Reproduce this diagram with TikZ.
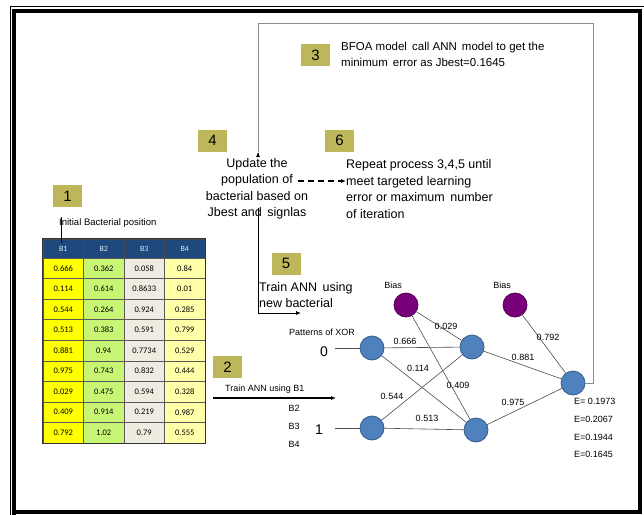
\documentclass[tikz,border=0pt]{standalone}
\usepackage{fontspec}
\setmainfont{Liberation Sans}
\newfontfamily\calibfont{Carlito}
\usetikzlibrary{arrows.meta}
\definecolor{numolive}{RGB}{190,183,90}
\definecolor{hdrblue}{RGB}{31,73,125}
\definecolor{hdrtext}{RGB}{220,230,242}
\definecolor{colA}{RGB}{255,255,0}
\definecolor{colB}{RGB}{200,245,115}
\definecolor{colC}{RGB}{238,236,225}
\definecolor{colD}{RGB}{255,255,170}
\definecolor{nblue}{RGB}{79,129,189}
\definecolor{nbluedark}{RGB}{56,93,138}
\definecolor{biaspurple}{RGB}{120,0,120}
\definecolor{loopgray}{RGB}{140,140,140}
\begin{document}
\begin{tikzpicture}[x=1pt,y=-1pt,
  numbox/.style={fill=numolive,inner sep=0pt,minimum width=29pt,minimum height=22pt,font=\fontsize{15}{15}\selectfont},
  hdr/.style={fill=hdrblue,draw=black!70,line width=0.5pt,inner sep=0pt,minimum width=40.5pt,minimum height=19pt,text=hdrtext,font=\calibfont\fontsize{8}{9}\selectfont},
  cell/.style={draw=black!65,line width=0.5pt,inner sep=0pt,minimum width=40.5pt,minimum height=20.55pt,font=\calibfont\fontsize{8.5}{9}\selectfont},
  neuron/.style={circle,minimum size=24pt,inner sep=0pt,fill=nblue,draw=nbluedark,line width=0.8pt},
  biasnode/.style={circle,minimum size=24pt,inner sep=0pt,fill=biaspurple,draw=biaspurple!70!black,line width=0.8pt},
  wline/.style={draw=black!70,line width=0.6pt},
  lab/.style={font=\fontsize{9}{10}\selectfont,inner sep=1pt},
  bigtext/.style={font=\fontsize{12.5}{16.5}\selectfont,inner sep=0pt},
  midtext/.style={font=\fontsize{11.5}{15.5}\selectfont,inner sep=0pt}
]
\useasboundingbox (0,0) rectangle (644,514);
\fill[white] (0,0) rectangle (644,514);
% frame
\draw[line width=1pt] (10,516) -- (10,6.5) -- (646,6.5);
\draw[line width=4pt] (14,520) -- (14,11) -- (639.5,11) -- (639.5,512) -- (14,512);

% step 1 and table
\node[numbox] (n1) at (67.5,196) {1};
\node[font=\fontsize{9.5}{11}\selectfont,inner sep=0pt,anchor=west] (init) at (59,223) {Initial Bacterial position};
\foreach \h [count=\c] in {B1,B2,B3,B4}
  \node[hdr] (h\c) at ({22.75+40.5*\c},248.5) {\h};
\foreach \va/\vb/\vc/\vd [count=\r] in {0.666/0.362/0.058/0.84,0.114/0.614/0.8633/0.01,0.544/0.264/0.924/0.285,0.513/0.383/0.591/0.799,0.881/0.94/0.7734/0.529,0.975/0.743/0.832/0.444,0.029/0.475/0.594/0.328,0.409/0.914/0.219/0.987,0.792/1.02/0.79/0.555}{
  \node[cell,fill=colA] (c\r-1) at (63.25,{247.725+20.55*\r}) {\va};
  \node[cell,fill=colB] (c\r-2) at (103.75,{247.725+20.55*\r}) {\vb};
  \node[cell,fill=colC] (c\r-3) at (144.25,{247.725+20.55*\r}) {\vc};
  \node[cell,fill=colD] (c\r-4) at (184.75,{247.725+20.55*\r}) {\vd};
}
\draw[line width=1pt,black!80] (h1.north west) rectangle (c9-4.south east);
\coordinate (i1) at (61,217);
\coordinate (i2) at (61,243);
\draw[line width=0.8pt] (i1) -- (i2);

% step 2
\node[numbox] (n2) at (227.5,367) {2};
\node[lab,anchor=west] (tab1) at (224,389) {Train ANN using B1};
\coordinate (a2s) at (213,398);
\coordinate (a2e) at (336,398);
\draw[line width=1.2pt,-{Latex[length=5pt,width=4pt]}] (a2s) -- (a2e);
\node[lab] (tb2) at (294,408) {B2};
\node[lab] (tb3) at (294,426) {B3};
\node[lab] (tb4) at (294,444) {B4};

% network
\node[neuron] (in1) at (372,348) {};
\node[neuron] (in2) at (372,428) {};
\node[neuron] (hid1) at (472,347) {};
\node[neuron] (hid2) at (476,430) {};
\node[neuron] (out) at (573,383) {};
\node[biasnode] (bias1) at (406,305) {};
\node[biasnode] (bias2) at (515,305) {};
\node[lab] (bl1) at (393,285) {Bias};
\node[lab] (bl2) at (502,285) {Bias};
\node[lab] (pxor) at (322,332) {Patterns of XOR};
\node[font=\fontsize{14}{14}\selectfont,inner sep=0pt] (x0) at (324,352) {0};
\node[font=\fontsize{14}{14}\selectfont,inner sep=0pt] (x1) at (319,430) {1};
\coordinate (x0e) at (335,348);
\coordinate (x1e) at (335,428);
\draw[wline] (x0e) -- (in1);
\draw[wline] (x1e) -- (in2);
\draw[wline] (in1) -- (hid1);
\draw[wline] (in1) -- (hid2);
\draw[wline] (in2) -- (hid1);
\draw[wline] (in2) -- (hid2);
\draw[wline] (bias1) -- (hid1);
\draw[wline] (bias1) -- (hid2);
\draw[wline] (hid1) -- (out);
\draw[wline] (hid2) -- (out);
\draw[wline] (bias2) -- (out);
\node[lab] (w1) at (405,341) {0.666};
\node[lab] (w2) at (446,326) {0.029};
\node[lab] (w3) at (418,368) {0.114};
\node[lab] (w4) at (458,385) {0.409};
\node[lab] (w5) at (392,396) {0.544};
\node[lab] (w6) at (427,418) {0.513};
\node[lab] (w7) at (523,357) {0.881};
\node[lab] (w8) at (548,337) {0.792};
\node[lab] (w9) at (513,402) {0.975};
\node[lab,anchor=west] (e1) at (573,401) {E= 0.1973};
\node[lab,anchor=west] (e2) at (573,419) {E=0.2067};
\node[lab,anchor=west] (e3) at (573,437) {E=0.1944};
\node[lab,anchor=west] (e4) at (573,454) {E=0.1645};

% step 3 loop
\node[numbox] (n3) at (315.5,55) {3};
\node[midtext,anchor=west,align=left] (t3) at (341,54.5) {BFOA model\, call ANN\, model to get the\\minimum\, error as Jbest=0.1645};
\coordinate (l1) at (593,383);
\coordinate (l2) at (593,23);
\coordinate (l3) at (258,23);
\coordinate (l4) at (258,152);
\draw[loopgray,line width=0.8pt] (out.east) -- (l1) -- (l2) -- (l3) -- (l4);
\draw[-{Latex[length=5pt,width=4pt]},line width=0.8pt] ([yshift=-1pt]l4) -- (l4);

% step 4
\node[numbox] (n4) at (212.5,140.5) {4};
\node[bigtext,align=center] (upd) at (257,189) {Update the\\population of\\bacterial based on\\Jbest and\, signlas};
% step 6
\node[numbox] (n6) at (339.5,140.5) {6};
\node[bigtext,align=left,anchor=west] (rep) at (346,189) {Repeat process 3,4,5 until\\meet targeted learning\\error or maximum\, number\\of iteration};
\coordinate (d1) at (298,181);
\draw[dashed,dash pattern=on 6pt off 4pt,line width=1.3pt,-{Latex[length=5pt,width=4pt]}] (d1) -- (rep.west |- d1);

% step 5
\node[numbox] (n5) at (286,263.5) {5};
\node[bigtext,align=left,anchor=west] (t5) at (259,295) {Train ANN\, using\\new bacterial};
\coordinate (v1) at (258,208);
\coordinate (v2) at (258,313);
\coordinate (v3) at (301,313);
\draw[line width=0.8pt,-{Latex[length=5pt,width=4pt]}] (v1) -- (v2) -- (v3);
\end{tikzpicture}
\end{document}
